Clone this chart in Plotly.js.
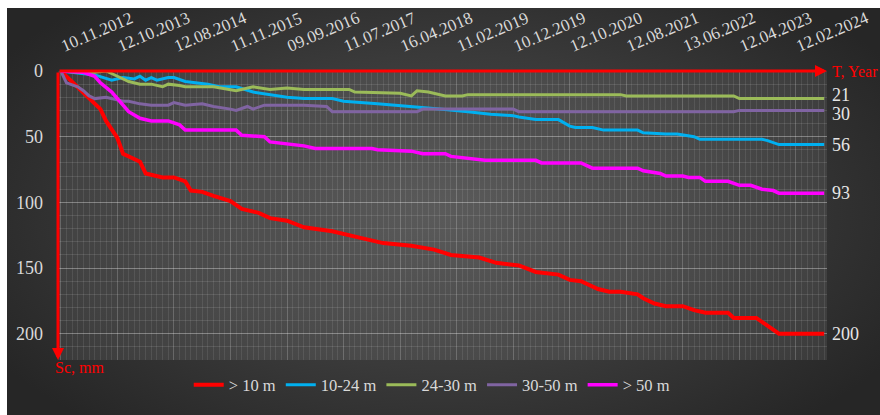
<!DOCTYPE html>
<html>
<head>
<meta charset="utf-8">
<script src="https://cdn.plot.ly/plotly-3.0.1.min.js"></script>
<style>
  html, body { margin: 0; padding: 0; background: #ffffff; }
  #wrap { position: relative; width: 880px; height: 415px; overflow: hidden; background: #ffffff; }
  #bg {
    position: absolute; left: 7px; top: 8px; right: 0; bottom: 0;
    background: radial-gradient(ellipse 60% 70% at 50% 50%, #4c4c4c 0%, #3a3a3a 55%, #262626 100%);
  }
  #chart { position: absolute; left: 0; top: 0; width: 880px; height: 415px; }
</style>
</head>
<body>
<div id="wrap">
  <div id="bg"></div>
  <div id="chart"></div>
</div>
<script>
// Measurement dates shown on the time axis (every 10th survey)
const tickIndex = [0, 10, 20, 30, 40, 50, 60, 70, 80, 90, 100, 110, 120, 130];
const tickDates = ["10.11.2012", "12.10.2013", "12.08.2014", "11.11.2015", "09.09.2016",
  "11.07.2017", "16.04.2018", "11.02.2019", "10.12.2019", "12.10.2020",
  "12.08.2021", "13.06.2022", "12.04.2023", "12.02.2024"];

// Settlement Sc (mm) by survey number, for each distance group
const seriesNames = ["> 10 m", "10-24 m", "24-30 m", "30-50 m", "> 50 m"];
const seriesColors = ["#ff0000", "#00b0f0", "#9bbb59", "#8064a2", "#ff00ff"];
const seriesWidths = [4, 3, 3, 3, 3.5];

const surveyR = [0,4,7,8,10,11,14,15,18,20,22,23,25,27,30,32,35,37,40,43,48,53,57,62,66,69,74,77,81,84,88,90,92,95,97,99,102,103,105,107,110,112,114,118,119,123,125,127,135];
const settleR = [0,16,29,38,51,63,69,78,81,81,84,91,92,95,99,105,108,112,114,119,122,127,131,133,136,140,142,146,148,153,155,159,160,166,168,168,170,173,177,179,179,182,184,184,188,188,194,200,200];

const surveyB = [0,6,9,11,13,14,15,16,17,19,20,22,26,28,31,34,40,43,48,50,56,62,67,72,76,80,81,84,88,90,91,94,96,102,103,107,109,112,113,124,125,127,135];
const settleB = [0,3,7,5,6,4,7,5,7,5,5,8,10,12,12,16,20,21,21,23,25,27,29,31,33,34,35,37,37,42,43,43,45,45,47,48,48,50,52,52,53,56,56];

const surveyG = [0,3,6,8,10,12,14,16,18,19,21,22,27,31,34,37,40,43,51,52,60,62,63,65,68,71,72,99,100,119,120,135];
const settleG = [0,1,1,0,4,8,10,10,12,10,11,12,12,15,12,14,13,14,14,16,17,19,15,16,19,19,18,18,19,19,21,21];

const surveyP = [0,1,3,4,5,6,8,9,11,12,14,16,19,20,22,25,27,30,31,33,34,36,43,47,48,63,64,80,81,119,120,135];
const settleP = [0,9,12,15,19,21,20,21,23,23,25,26,26,24,26,25,27,29,30,27,29,26,26,27,31,31,29,29,31,31,30,30];

const surveyM = [0,4,6,7,9,11,12,14,16,19,21,22,31,32,36,37,41,43,45,55,56,62,64,68,69,74,75,84,85,92,94,102,103,106,107,110,111,113,114,118,120,122,124,126,127,135];
const settleM = [0,1,4,9,16,26,31,36,38,38,41,45,45,49,50,54,56,57,59,59,60,61,63,63,65,67,68,68,70,70,74,74,76,78,80,80,81,81,84,84,87,87,90,91,93,93];

const xs = [surveyR, surveyB, surveyG, surveyP, surveyM];
const ys = [settleR, settleB, settleG, settleP, settleM];

const serif = "Liberation Serif";
const labelColor = "#d9d9d9";

const traces = seriesNames.map((name, k) => ({
  type: "scatter",
  mode: "lines",
  name: name,
  x: xs[k],
  y: ys[k],
  line: { color: seriesColors[k], width: seriesWidths[k] },
  hoverinfo: "skip"
}));

// Final settlement value written at the end of each line
// (the two closest ones are nudged apart so they do not collide)
const endNudge = [0, 0, 4, -4, 0];
const endLabels = seriesNames.map((name, k) => {
  const n = xs[k].length - 1;
  return {
    xref: "x", yref: "y", x: xs[k][n], y: ys[k][n],
    text: String(ys[k][n]), showarrow: false,
    xanchor: "left", yanchor: "middle", xshift: 6, yshift: endNudge[k],
    font: { family: serif, size: 18, color: "#e6e6e6" }
  };
});

// Red axis arrows and their captions
const axisMarks = [
  { xref: "paper", yref: "paper", axref: "paper", ayref: "paper",
    x: 1.0, y: 1, ax: 0, ay: 1, text: "", showarrow: true,
    arrowhead: 2, arrowsize: 0.8, arrowwidth: 3, arrowcolor: "#ff0000", standoff: 0 },
  { xref: "paper", yref: "paper", axref: "paper", ayref: "paper",
    x: 0, y: 0.0, ax: 0, ay: 1, text: "", showarrow: true,
    arrowhead: 2, arrowsize: 0.8, arrowwidth: 3, arrowcolor: "#ff0000", standoff: 0 },
  { xref: "paper", yref: "paper", x: 1.004, y: 1, text: "T, Year", showarrow: false,
    xanchor: "left", yanchor: "middle", font: { family: serif, size: 16, color: "#ff0000" } },
  { xref: "paper", yref: "paper", x: -0.007, y: -0.025, text: "Sc, mm", showarrow: false,
    xanchor: "left", yanchor: "middle", font: { family: serif, size: 16, color: "#ff0000" } }
];

const layout = {
  width: 880, height: 415,
  margin: { l: 58, r: 53, t: 71, b: 44 },
  paper_bgcolor: "rgba(0,0,0,0)",
  plot_bgcolor: "rgba(255,255,255,0.08)",
  font: { family: serif, color: labelColor },
  showlegend: true,
  legend: {
    orientation: "h", x: 0.486, xanchor: "center", y: -0.087, yanchor: "middle",
    font: { family: serif, size: 16.5, color: labelColor },
    bgcolor: "rgba(0,0,0,0)", itemwidth: 30, traceorder: "normal"
  },
  xaxis: {
    range: [-0.5, 135.5], side: "top",
    tickmode: "array", tickvals: tickIndex, ticktext: tickDates,
    tickangle: -23, ticks: "", ticklabelstandoff: 14,
    tickfont: { family: serif, size: 17, color: labelColor },
    showgrid: true, gridcolor: "rgba(255,255,255,0.12)", gridwidth: 1,
    minor: { tickmode: "linear", tick0: 0, dtick: 1, showgrid: true,
             gridcolor: "rgba(255,255,255,0.09)", gridwidth: 1 },
    zeroline: false, showline: false, fixedrange: true
  },
  yaxis: {
    range: [220, 0], tickmode: "array", tickvals: [0, 50, 100, 150, 200],
    ticks: "", ticklabelstandoff: 14,
    tickfont: { family: serif, size: 18, color: labelColor },
    showgrid: true, gridcolor: "rgba(255,255,255,0.26)", gridwidth: 1,
    minor: { tickmode: "linear", tick0: 0, dtick: 10, showgrid: true,
             gridcolor: "rgba(255,255,255,0.11)", gridwidth: 1 },
    zeroline: false, showline: false, fixedrange: true
  },
  annotations: endLabels.concat(axisMarks)
};

Plotly.newPlot("chart", traces, layout, { displayModeBar: false, staticPlot: true });
</script>
</body>
</html>
